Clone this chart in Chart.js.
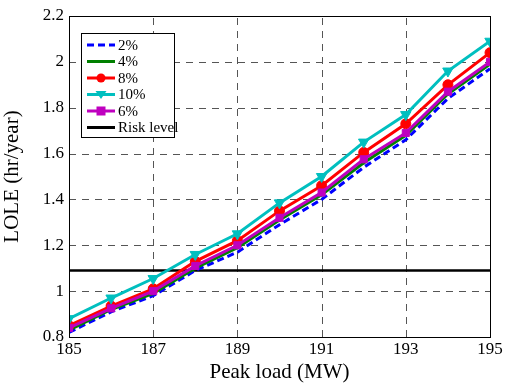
<!DOCTYPE html>
<html>
<head>
<meta charset="utf-8">
<script src="https://cdn.jsdelivr.net/npm/chart.js@4.4.1/dist/chart.umd.min.js"></script>
<style>
  html, body { margin: 0; padding: 0; background: #fff; }
  #wrap { width: 510px; height: 385px; position: relative; }
</style>
</head>
<body>
<div id="wrap"><canvas id="lole"></canvas></div>
<script>
// peak load (MW)
const peakLoad = [185, 186, 187, 188, 189, 190, 191, 192, 193, 194, 195];

// LOLE (hr/year) for each load growth
const lole2 = [0.82, 0.91, 0.98, 1.09, 1.17, 1.29, 1.40, 1.54, 1.66, 1.84, 1.97];
const lole4 = [0.83, 0.92, 0.99, 1.10, 1.19, 1.31, 1.42, 1.56, 1.68, 1.86, 1.99];
const lole8 = [0.85, 0.935, 1.01, 1.13, 1.22, 1.35, 1.46, 1.605, 1.73, 1.90, 2.04];
const lole10 = [0.88, 0.97, 1.055, 1.16, 1.25, 1.385, 1.50, 1.65, 1.77, 1.96, 2.09];
const lole6 = [0.84, 0.925, 1.00, 1.11, 1.20, 1.32, 1.43, 1.575, 1.69, 1.87, 2.00];
const riskLevel = 1.09;

const xTicks = [185, 187, 189, 191, 193, 195];
const yTicks = [0.8, 1, 1.2, 1.4, 1.6, 1.8, 2, 2.2];

const FONT = "'Liberation Serif', 'Times New Roman', serif";

function pts(values) {
  return peakLoad.map((x, i) => ({ x, y: values[i] }));
}

const series = [
  { label: "2%", data: lole2, color: "#0000ff", dash: [7, 4], style: false, order: 5 },
  { label: "4%", data: lole4, color: "#008000", dash: [], style: "circle", radius: 1.5, order: 4 },
  { label: "8%", data: lole8, color: "#ff0000", dash: [], style: "circle", radius: 5, order: 3 },
  { label: "10%", data: lole10, color: "#00bfbf", dash: [], style: "triangle", radius: 6, rotation: 180, order: 2 },
  { label: "6%", data: lole6, color: "#bf00bf", dash: [], style: "rect", radius: 5, order: 1 }
];

const datasets = series.map((s) => ({
  label: s.label,
  data: pts(s.data),
  borderColor: s.color,
  backgroundColor: s.color,
  borderWidth: 3,
  borderDash: s.dash,
  pointStyle: s.style,
  pointRadius: s.style ? s.radius : 0,
  pointRotation: s.rotation || 0,
  pointBorderWidth: 1,
  order: s.order,
  tension: 0
}));

datasets.push({
  label: "Risk level",
  data: pts(peakLoad.map(() => riskLevel)),
  borderColor: "#000",
  backgroundColor: "#000",
  borderWidth: 2.5,
  pointRadius: 0,
  order: 6
});

// dashed grid under the lines
const gridPlugin = {
  id: "dashGrid",
  beforeDatasetsDraw(chart) {
    const { ctx, chartArea: a, scales } = chart;
    ctx.save();
    ctx.strokeStyle = "#555";
    ctx.lineWidth = 1;
    ctx.setLineDash([7, 6]);
    xTicks.slice(1, -1).forEach((v) => {
      const x = Math.round(scales.x.getPixelForValue(v)) + 0.5;
      ctx.beginPath();
      ctx.moveTo(x, a.bottom);
      ctx.lineTo(x, a.top);
      ctx.stroke();
    });
    yTicks.slice(1, -1).forEach((v) => {
      const y = Math.round(scales.y.getPixelForValue(v)) + 0.5;
      ctx.beginPath();
      ctx.moveTo(a.left, y);
      ctx.lineTo(a.right, y);
      ctx.stroke();
    });
    ctx.restore();
  }
};

// frame + legend drawn inside the plot, like the original figure
const framePlugin = {
  id: "frame",
  afterDraw(chart) {
    const { ctx, chartArea: a } = chart;
    ctx.save();
    ctx.strokeStyle = "#000";
    ctx.lineWidth = 1;
    ctx.strokeRect(a.left + 0.5, a.top + 0.5, a.right - a.left, a.bottom - a.top);

    // legend box
    const bx = 81, by = 33, bw = 93, bh = 104;
    ctx.fillStyle = "#fff";
    ctx.fillRect(bx, by, bw, bh);
    ctx.strokeRect(bx + 0.5, by + 0.5, bw, bh);

    const rows = series.map((s) => s).concat([{ label: "Risk level", color: "#000", dash: [], style: false }]);
    ctx.font = "15px " + FONT;
    ctx.textBaseline = "middle";
    rows.forEach((s, i) => {
      const y = by + 12 + i * 16.5;
      ctx.strokeStyle = s.color;
      ctx.lineWidth = 3;
      ctx.setLineDash(s.dash);
      ctx.beginPath();
      ctx.moveTo(87, y);
      ctx.lineTo(115, y);
      ctx.stroke();
      ctx.setLineDash([]);
      if (s.style) {
        ctx.fillStyle = s.color;
        const r = Math.min(s.radius, 4.5);
        if (s.style === "circle") {
          ctx.beginPath();
          ctx.arc(101, y, r, 0, Math.PI * 2);
          ctx.fill();
        } else if (s.style === "rect") {
          ctx.fillRect(101 - r, y - r, r * 2, r * 2);
        } else if (s.style === "triangle") {
          ctx.beginPath();
          ctx.moveTo(101 - r - 1, y - r + 1);
          ctx.lineTo(101 + r + 1, y - r + 1);
          ctx.lineTo(101, y + r);
          ctx.closePath();
          ctx.fill();
        }
      }
      ctx.fillStyle = "#000";
      ctx.fillText(s.label, 118, y + 1);
    });
    ctx.restore();
  }
};

new Chart(document.getElementById("lole"), {
  type: "line",
  data: { datasets },
  plugins: [gridPlugin, framePlugin],
  options: {
    responsive: true,
    maintainAspectRatio: false,
    animation: false,
    layout: { padding: { top: 16, right: 20, left: 0, bottom: 0 } },
    plugins: {
      legend: { display: false },
      tooltip: { enabled: false }
    },
    scales: {
      x: {
        type: "linear",
        min: 185,
        max: 195,
        afterBuildTicks: (axis) => { axis.ticks = xTicks.map((v) => ({ value: v })); },
        ticks: {
          color: "#000",
          font: { family: FONT, size: 17 },
          padding: 2,
          maxRotation: 0
        },
        grid: { display: false, drawTicks: false },
        border: { display: false },
        title: {
          display: true,
          text: "Peak load (MW)",
          color: "#000",
          font: { family: FONT, size: 21 },
          padding: { top: 0, bottom: 0 }
        },
        afterFit: (axis) => { axis.height = 48; }
      },
      y: {
        min: 0.8,
        max: 2.2,
        afterBuildTicks: (axis) => { axis.ticks = yTicks.map((v) => ({ value: v })); },
        ticks: {
          color: "#000",
          font: { family: FONT, size: 17 },
          padding: 5,
          callback: (v) => String(+Number(v).toFixed(1))
        },
        grid: { display: false, drawTicks: false },
        border: { display: false },
        title: {
          display: true,
          text: "LOLE (hr/year)",
          color: "#000",
          font: { family: FONT, size: 21 },
          padding: { top: 0, bottom: 4 }
        },
        afterFit: (axis) => { axis.width = 69; }
      }
    }
  }
});
</script>
</body>
</html>
